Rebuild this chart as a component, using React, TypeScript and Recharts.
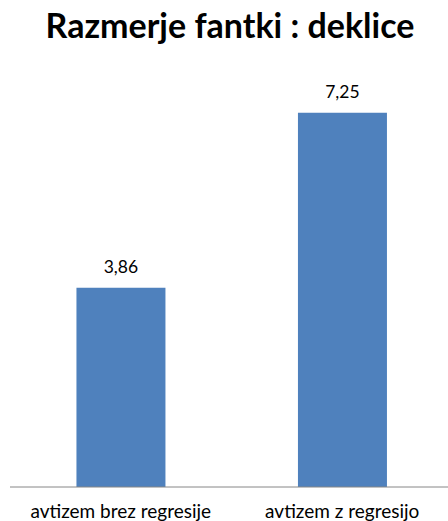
import React from "react";
import { Bar, BarChart, LabelList, XAxis, YAxis } from "recharts";

const categories = ["avtizem brez regresije", "avtizem z regresijo"];
const ratios = [3.86, 7.25];

const data = categories.map((name, i) => ({ name, ratio: ratios[i] }));

const font = "Lato, 'Open Sans', sans-serif";
const formatValue = (v: number) => v.toFixed(2).replace(".", ",");

export default function App() {
  return (
    <div
      style={{
        position: "absolute",
        top: 0,
        left: 0,
        width: 448,
        height: 521,
        overflow: "hidden",
        background: "#ffffff",
        fontFamily: font,
      }}
    >
      <div
        style={{
          position: "absolute",
          top: 4,
          left: 0,
          width: 460,
          textAlign: "center",
          fontSize: 34,
          fontWeight: 700,
          color: "#000000",
          lineHeight: "42px",
        }}
      >
        Razmerje fantki : deklice
      </div>
      <BarChart
        width={460}
        height={540}
        data={data}
        margin={{ top: 74, right: 7, left: 10, bottom: 0 }}
        barCategoryGap="30%"
      >
        <XAxis
          dataKey="name"
          axisLine={{ stroke: "#868686", strokeWidth: 1 }}
          tickLine={false}
          tickSize={0}
          tickMargin={18}
          height={53}
          interval={0}
          tick={{ fill: "#000000", fontSize: 19, fontFamily: font }}
        />
        <YAxis hide domain={[0, 8]} />
        <Bar dataKey="ratio" fill="#4f81bd" isAnimationActive={false}>
          <LabelList
            dataKey="ratio"
            position="top"
            offset={15}
            formatter={(v: number) => formatValue(v)}
            style={{ fill: "#000000", fontSize: 17.5, fontFamily: font }}
          />
        </Bar>
      </BarChart>
    </div>
  );
}
